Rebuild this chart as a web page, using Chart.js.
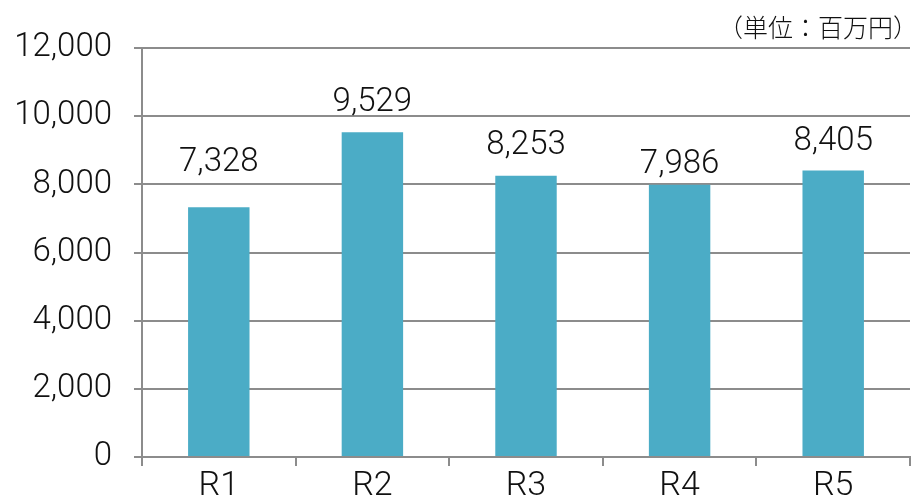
<!DOCTYPE html>
<html>
<head>
<meta charset="utf-8">
<script src="https://cdn.jsdelivr.net/npm/chart.js@4/dist/chart.umd.min.js"></script>
<style>
  html, body { margin: 0; padding: 0; background: #fff; }
  #wrap { width: 913px; height: 502px; position: relative; }
</style>
</head>
<body>
<div id="wrap"><canvas id="chart"></canvas></div>
<script>
const categories = ["R1", "R2", "R3", "R4", "R5"];
const amounts = [7328, 9529, 8253, 7986, 8405];
const unitLabel = "（単位：百万円）";

const FONT = "Roboto, 'Noto Sans', sans-serif";
const JP_FONT = "'Noto Sans CJK JP', sans-serif";
const GRID = "#8c8c8c";

// draws value labels above each bar and the unit text
const barLabels = {
  id: "barLabels",
  afterDatasetsDraw(chart, args, opts) {
    const ctx = chart.ctx;
    const meta = chart.getDatasetMeta(0);
    ctx.save();
    ctx.font = "300 33px " + FONT;
    ctx.fillStyle = "#111";
    ctx.textAlign = "center";
    ctx.textBaseline = "middle";
    meta.data.forEach((bar, i) => {
      const gap = opts.gaps[i] || 30;
      ctx.fillText(amounts[i].toLocaleString("en-US"), bar.x, bar.y - gap);
    });
    ctx.font = "300 25px " + JP_FONT;
    ctx.textAlign = "right";
    ctx.fillText(unitLabel, 918, 27);
    ctx.restore();
  }
};

new Chart(document.getElementById("chart"), {
  type: "bar",
  data: {
    labels: categories,
    datasets: [{
      data: amounts,
      backgroundColor: "#4bacc6",
      categoryPercentage: 1,
      barPercentage: 0.4
    }]
  },
  options: {
    responsive: true,
    maintainAspectRatio: false,
    animation: false,
    layout: { padding: { top: 48, right: 3, left: 0, bottom: 0 } },
    plugins: {
      legend: { display: false },
      tooltip: { enabled: false },
      barLabels: { gaps: [44, 29, 30, 20, 29] }
    },
    scales: {
      x: {
        grid: { display: true, drawOnChartArea: false, color: GRID, lineWidth: 2, tickLength: 9, offset: true },
        border: { color: GRID, width: 2 },
        ticks: { color: "#111", font: { family: FONT, size: 34, weight: 300 }, padding: 0 },
        afterFit(scale) { scale.height = 45; }
      },
      y: {
        min: 0,
        max: 12000,
        ticks: {
          stepSize: 2000,
          color: "#111",
          font: { family: FONT, size: 33, weight: 300 },
          padding: 22,
          callback: (v) => v.toLocaleString("en-US")
        },
        grid: { color: GRID, lineWidth: 2, tickLength: 8 },
        border: { color: GRID, width: 2 },
        afterFit(scale) { scale.width = 142; }
      }
    }
  },
  plugins: [barLabels]
});
</script>
</body>
</html>
